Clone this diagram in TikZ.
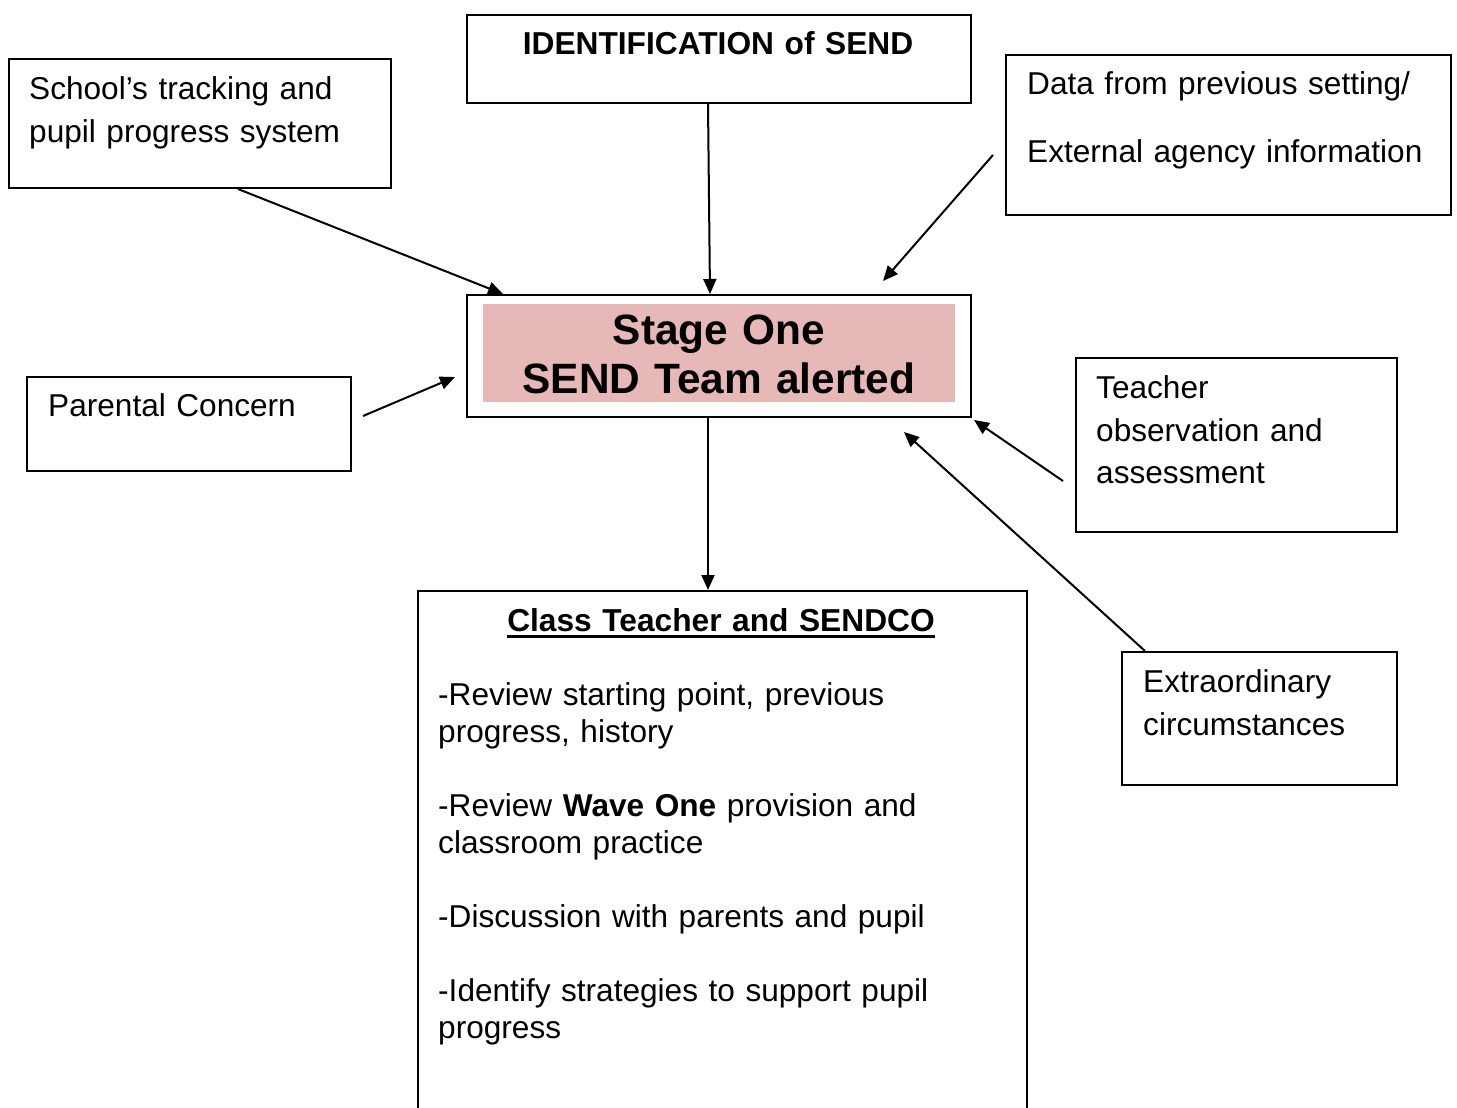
\documentclass[tikz,border=0pt]{standalone}
\usepackage{fontspec}
\setmainfont{Liberation Sans}
\usetikzlibrary{arrows.meta}

\definecolor{stagepink}{HTML}{E6B8B7}
\newcommand{\ultext}[1]{\setbox0\hbox{#1}\rlap{\rule[-6pt]{\wd0}{2.5pt}}\box0}

\tikzset{
  box/.style={draw, line width=2pt, anchor=north west, inner sep=0pt},
  txt/.style={anchor=base west, inner sep=0pt, align=left, text width=600pt,
    font=\fontsize{31.6}{42.5}\selectfont},
  head/.style={anchor=base, inner sep=0pt, align=center, text width=600pt,
    font=\bfseries\fontsize{31.7}{38}\selectfont},
  arr/.style={-{Triangle[length=15pt,width=13pt]}, line width=2pt},
}

\begin{document}
\begin{tikzpicture}[x=1pt, y=-1pt]

    \useasboundingbox (0,0) rectangle (1457,1108);

    % boxes
    \node[box, minimum width=382pt, minimum height=129pt] (school) at (8,58) {};
    \node[box, minimum width=504pt, minimum height=88pt]  (ident)  at (466,14) {};
    \node[box, minimum width=445pt, minimum height=160pt] (data)   at (1005,54) {};
    \node[box, minimum width=504pt, minimum height=122pt] (stage)  at (466,294) {};
    \node[anchor=north west, fill=stagepink, minimum width=472pt, minimum height=98pt] (stagefill) at (483,304) {};
    \node[box, minimum width=324pt, minimum height=94pt]  (parent) at (26,376) {};
    \node[box, minimum width=321pt, minimum height=174pt] (teacher) at (1075,357) {};
    \node[box, minimum width=275pt, minimum height=133pt] (extra)  at (1121,651) {};
    \node[box, minimum width=609pt, minimum height=540pt] (class)  at (417,590) {};

    % texts
    \node[txt] (schooltxt) at (29,99.5) {School’s tracking and\\pupil progress system};
    \node[head] (identtxt) at (718,54.5) {IDENTIFICATION of SEND};
    \node[txt] (datatxt) at (1027,94.5) {Data from previous setting/\\[26pt]External agency information};
    \node[head, font=\bfseries\fontsize{42.4}{49}\selectfont] (stagetxt) at (719,344) {Stage One\\SEND Team alerted};
    \node[txt] (parenttxt) at (48,416.5) {Parental Concern};
    \node[txt] (teachertxt) at (1096,398.5) {Teacher\\observation and\\assessment};
    \node[txt] (extratxt) at (1143,692.5) {Extraordinary\\circumstances};
    \node[head] (classtxt) at (721,631.5) {\ultext{Class Teacher and SENDCO}};
    \node[txt, font=\fontsize{31.6}{37}\selectfont] (classlist) at (438,705.5)
      {-Review starting point, previous\\progress, history\\[37pt]
       -Review \textbf{Wave One} provision and\\classroom practice\\[37pt]
       -Discussion with parents and pupil\\[37pt]
       -Identify strategies to support pupil\\progress};

    % free ends
    \coordinate (datafrom) at ([shift={(-12pt,-101pt)}]data.north west);
    \coordinate (parentfrom) at ([shift={(11pt,-40pt)}]parent.north east);
    \coordinate (teacherfrom) at ([shift={(-12pt,-124pt)}]teacher.north west);

    % arrows
    \draw[arr] ([xshift=230pt]school.south west) -- ([xshift=37pt]stage.north west);
    \draw[arr] ([xshift=242pt]ident.south west) -- ([xshift=244pt]stage.north west);
    \draw[arr] (datafrom) -- ([shift={(417pt,13pt)}]stage.north west);
    \draw[arr] (parentfrom) -- ([shift={(-11pt,-83pt)}]stage.north west);
    \draw[arr] (teacherfrom) -- ([shift={(2pt,-2pt)}]stage.south east);
    \draw[arr] ([xshift=24pt]extra.north west) -- ([shift={(-68pt,-14pt)}]stage.south east);
    \draw[arr] ([xshift=242pt]stage.south west) -- ([xshift=291pt]class.north west);

\end{tikzpicture}
\end{document}
